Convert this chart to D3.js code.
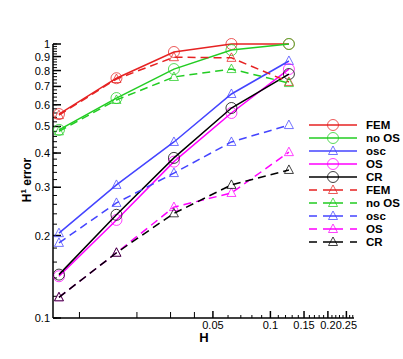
<!DOCTYPE html>
<html>
<head>
<meta charset="utf-8">
<script src="https://cdn.jsdelivr.net/npm/d3@7"></script>
<style>
  body { margin: 0; background: #fff; }
  text { font-family: "Liberation Sans", Arial, sans-serif; }
</style>
</head>
<body>
<div class="graph"></div>
<script>
// mesh sizes
var H = [1/128, 1/64, 1/32, 1/16, 1/8];

// solid lines (circles, osc uses triangles)
var femSolid  = [0.555, 0.75, 0.935, 1.0, 1.0];
var noosSolid = [0.486, 0.635, 0.81, 0.95, 1.0];
var oscSolid  = [0.204, 0.306, 0.439, 0.657, 0.867];
var osSolid   = [0.142, 0.228, 0.372, 0.56, 0.81];
var crSolid   = [0.144, 0.238, 0.384, 0.584, 0.777];

// dashed lines (triangles)
var femDash  = [0.55, 0.745, 0.895, 0.89, 0.727];
var noosDash = [0.48, 0.625, 0.758, 0.81, 0.72];
var oscDash  = [0.188, 0.263, 0.338, 0.439, 0.506];
var osDash   = [0.119, 0.173, 0.254, 0.286, 0.403];
var crDash   = [0.119, 0.173, 0.241, 0.306, 0.347];

var xTickLabels = [0.05, 0.1, 0.15, 0.2, 0.25];
var yTickLabels = [1, 0.9, 0.8, 0.7, 0.6, 0.5, 0.4, 0.3, 0.2, 0.1];

var series = [
  {name: "FEM",   values: femSolid,  color: "#e62222", dash: false, sym: "circle"},
  {name: "no OS", values: noosSolid, color: "#22cc22", dash: false, sym: "circle"},
  {name: "osc",   values: oscSolid,  color: "#4444ff", dash: false, sym: "triangle"},
  {name: "OS",    values: osSolid,   color: "#ff00ff", dash: false, sym: "circle"},
  {name: "CR",    values: crSolid,   color: "#000000", dash: false, sym: "circle"},
  {name: "FEM",   values: femDash,   color: "#e62222", dash: true,  sym: "triangle"},
  {name: "no OS", values: noosDash,  color: "#22cc22", dash: true,  sym: "triangle"},
  {name: "osc",   values: oscDash,   color: "#4444ff", dash: true,  sym: "triangle"},
  {name: "OS",    values: osDash,    color: "#ff00ff", dash: true,  sym: "triangle"},
  {name: "CR",    values: crDash,    color: "#000000", dash: true,  sym: "triangle"}
];

var W = 403, HT = 359;
var svg = d3.select(".graph").append("svg")
    .attr("width", W).attr("height", HT);

var x = d3.scaleLog().domain([0.00727, 0.274]).range([53, 354]);
var y = d3.scaleLog().domain([0.1, 1]).range([318, 44]);

// y ticks: minor every 0.02, major every 0.1
var yMinor = d3.range(0.1, 1.0001, 0.02);
svg.append("g").selectAll("line").data(yMinor).enter().append("line")
    .attr("x1", x.range()[0]).attr("x2", x.range()[0] + 4)
    .attr("y1", function(d) { return y(d); }).attr("y2", function(d) { return y(d); })
    .attr("stroke", "#000").attr("stroke-width", 1);
svg.append("g").selectAll("line").data(yTickLabels).enter().append("line")
    .attr("x1", x.range()[0]).attr("x2", x.range()[0] + 8)
    .attr("y1", function(d) { return y(d); }).attr("y2", function(d) { return y(d); })
    .attr("stroke", "#000").attr("stroke-width", 1.5);
svg.append("g").selectAll("text").data(yTickLabels).enter().append("text")
    .attr("x", x.range()[0] - 3).attr("y", function(d) { return y(d) + 4; })
    .attr("text-anchor", "end").attr("font-size", 11)
    .text(function(d) { return d; });

// x ticks
var xMid = [0.01, 0.02, 0.03, 0.04];
var xMinor = [0.06, 0.07, 0.08, 0.09, 0.11, 0.12, 0.13, 0.14, 0.16, 0.17, 0.18, 0.19,
              0.21, 0.22, 0.23, 0.24, 0.26, 0.27];
function xticks(data, len, sw) {
  svg.append("g").selectAll("line").data(data).enter().append("line")
      .attr("x1", function(d) { return x(d); }).attr("x2", function(d) { return x(d); })
      .attr("y1", y.range()[0]).attr("y2", y.range()[0] - len)
      .attr("stroke", "#000").attr("stroke-width", sw);
}
xticks(xMinor, 3, 1);
xticks(xMid, 6, 1);
xticks(xTickLabels, 7, 1.5);
svg.append("g").selectAll("text").data(xTickLabels).enter().append("text")
    .attr("x", function(d) { return x(d); }).attr("y", y.range()[0] + 11)
    .attr("text-anchor", "middle").attr("font-size", 11)
    .text(function(d) { return d; });

// axis lines
svg.append("line").attr("x1", x.range()[0]).attr("x2", x.range()[0])
    .attr("y1", y.range()[1]).attr("y2", y.range()[0])
    .attr("stroke", "#000").attr("stroke-width", 1.5);
svg.append("line").attr("x1", x.range()[0]).attr("x2", x.range()[1])
    .attr("y1", y.range()[0]).attr("y2", y.range()[0])
    .attr("stroke", "#000").attr("stroke-width", 1.5);

// axis titles
svg.append("text").attr("x", 204).attr("y", 342)
    .attr("text-anchor", "middle").attr("font-size", 13).attr("font-weight", "bold")
    .text("H");
var yt = svg.append("text")
    .attr("transform", "translate(31,180) rotate(-90)")
    .attr("text-anchor", "middle").attr("font-size", 12).attr("font-weight", "bold");
yt.append("tspan").text("H");
yt.append("tspan").attr("dy", -5).attr("font-size", 8).text("1");
yt.append("tspan").attr("dy", 5).text(" error");

var line = d3.line()
    .x(function(d, i) { return x(H[i]); })
    .y(function(d) { return y(d); });

function symbol(g, s, cx, cy) {
  if (s.sym === "circle") {
    g.append("circle").attr("cx", cx).attr("cy", cy).attr("r", 5.5)
      .attr("fill", "none").attr("stroke", s.color).attr("stroke-opacity", 0.75)
      .attr("stroke-width", 1);
  } else {
    g.append("path")
      .attr("d", "M" + cx + "," + (cy - 5) + "L" + (cx + 4.5) + "," + (cy + 3.5) +
                 "L" + (cx - 4.5) + "," + (cy + 3.5) + "Z")
      .attr("fill", "none").attr("stroke", s.color).attr("stroke-opacity", 0.75)
      .attr("stroke-width", 1);
  }
}

// curves
series.forEach(function(s) {
  var g = svg.append("g");
  g.append("path").datum(s.values)
    .attr("d", line)
    .attr("fill", "none").attr("stroke", s.color).attr("stroke-width", 1.5)
    .attr("stroke-dasharray", s.dash ? "8,5" : null);
  s.values.forEach(function(v, i) { symbol(g, s, x(H[i]), y(v)); });
});

// legend
var leg = svg.append("g");
series.forEach(function(s, i) {
  var ly = 125 + i * 13;
  leg.append("line").attr("x1", 309).attr("x2", 357).attr("y1", ly).attr("y2", ly)
    .attr("stroke", s.color).attr("stroke-width", 1.5)
    .attr("stroke-dasharray", s.dash ? "8,6,20,7,8,100" : null);
  symbol(leg, s, 333, ly);
  leg.append("text").attr("x", 366).attr("y", ly + 4)
    .attr("font-size", 11.5).attr("font-weight", "bold")
    .text(s.name);
});
</script>
</body>
</html>
